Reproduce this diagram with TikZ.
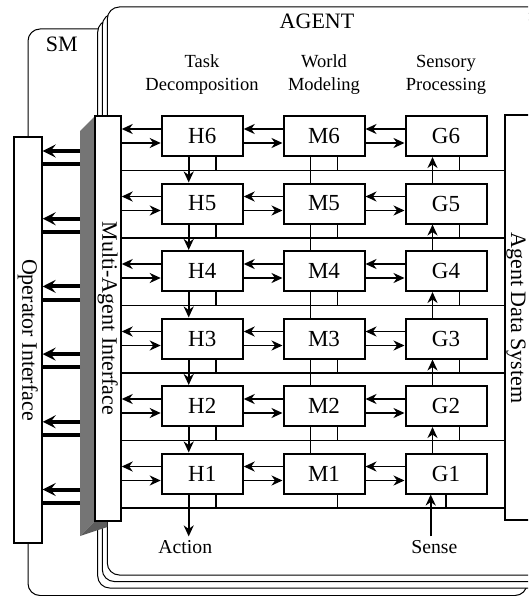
\documentclass[tikz,border=0pt]{standalone}
\usepackage{fontspec}
\setmainfont{Liberation Serif}
\usetikzlibrary{arrows.meta}
\begin{document}
\begin{tikzpicture}[x=1pt,y=-1pt,
  box/.style={draw, line width=2pt, fill=white, minimum width=81pt, minimum height=40pt, inner sep=0pt, font=\fontsize{23}{25}\selectfont},
  arr/.style={line width=1.9pt, -{Stealth[length=11pt,width=10pt,inset=3.5pt]}},
  ln/.style={line width=1.9pt},
  pageframe/.style={draw, line width=1pt, fill=white, rounded corners=12pt},
  thickarr/.style={line width=4pt, -{Stealth[length=13pt,width=13pt,inset=5pt]}},
  thickln/.style={line width=4pt},
  head/.style={font=\fontsize{18.5}{23}\selectfont, anchor=base, inner sep=0pt},
  big/.style={font=\fontsize{22}{24}\selectfont},
  side/.style={draw, line width=2pt, fill=white},
]
\useasboundingbox (0,0) rectangle (528,596);
\clip (0,0) rectangle (528,596);
% SM frame
\draw[line width=1pt, rounded corners=12pt] (28,29) rectangle (527,595.5);
\node[big, anchor=base, inner sep=0pt] (sm) at (61.7,51.7) {SM};
% agent page frames
\path[pageframe] (97.7,20) rectangle (560,588);
\path[pageframe] (102.3,13.5) rectangle (560,581.5);
\path[pageframe] (107.3,7) rectangle (560,575);
\node[big, anchor=base, inner sep=0pt] (agent) at (317,29) {AGENT};
% headings
\node[head] (td1) at (202,67.7) {Task};
\node[head] (td2) at (202,90.7) {Decomposition};
\node[head] (wm1) at (324,67.7) {World};
\node[head] (wm2) at (324,90.7) {Modeling};
\node[head] (sp1) at (446,67.7) {Sensory};
\node[head] (sp2) at (446,90.7) {Processing};
% side boxes
\path[side] (505,115) rectangle (560,520);
\coordinate (ADSw) at (505,318);
\node[big, rotate=-90] (ads) at (516,318) {Agent Data System};
\node[draw, line width=2pt, fill=white, minimum width=27.7pt, minimum height=406pt, inner sep=0pt] (OI) at (27.85,340) {};
\node[big, rotate=-90] (oitext) at (OI.center) {Operator Interface};
% MAI shadow
\fill[black!54] (95,116) -- (80,131) -- (80,536) -- (95,521) -- cycle;
\fill[black!64] (80,536) -- (96.7,530.5) -- (107.3,527) -- (107.3,521) -- (95,521) -- cycle;
\coordinate (shw) at (80,318);
\node[draw, line width=2pt, fill=white, minimum width=25.7pt, minimum height=405pt, inner sep=0pt] (MAI) at (107.85,318.35) {};
\node[big, rotate=-90] (maitext) at (MAI.center) {Multi-Agent Interface};
% thick arrows OI <- MAI
\foreach \k in {0,...,5}{
  \pgfmathsetmacro{\ta}{151+67.7*\k}
  \pgfmathsetmacro{\tb}{164.3+67.7*\k}
  \draw[thickarr] (shw |- 0,\ta) -- (OI.east |- 0,\ta);
  \draw[thickln] (shw |- 0,\tb) -- (OI.east |- 0,\tb);
}
% grid boxes
\foreach \i in {1,...,6}{
  \pgfmathsetmacro{\cy}{473.5-67.5*(\i-1)}
  \node[box] (H\i) at (202.2,\cy) {H\i};
  \node[box] (M\i) at (324,\cy) {M\i};
  \node[box] (G\i) at (446,\cy) {G\i};
  \coordinate (mu\i) at (MAI.east |- H\i.west);
  \path (H\i.south) ++(0,13.5) coordinate (b\i);
}
\foreach \i in {1,...,6}{
  \draw[ln] (MAI.east |- b\i) -- (ADSw |- b\i);
  % horizontal arrows
  \draw[arr] ([yshift=7pt]H\i.west) -- ([yshift=7pt]mu\i);
  \draw[arr] ([yshift=-7pt]mu\i) -- ([yshift=-7pt]H\i.west);
  \draw[arr] ([yshift=7pt]M\i.west) -- ([yshift=7pt]H\i.east);
  \draw[arr] ([yshift=-7pt]H\i.east) -- ([yshift=-7pt]M\i.west);
  \draw[arr] ([yshift=7pt]G\i.west) -- ([yshift=7pt]M\i.east);
  \draw[arr] ([yshift=-7pt]M\i.east) -- ([yshift=-7pt]G\i.west);
  % stubs to bus
  \draw[ln] ([xshift=13.5pt]H\i.south) -- ([xshift=13.5pt]H\i.south |- b\i);
  \draw[ln] ([xshift=13.5pt]M\i.south) -- ([xshift=13.5pt]M\i.south |- b\i);
}
\foreach \i in {2,...,6}{
  \draw[ln] ([xshift=13.5pt]G\i.south) -- ([xshift=13.5pt]G\i.south |- b\i);
}
\draw[ln] (G1.south) -- (G1.south |- b1);
\foreach \i [evaluate=\i as \j using int(\i+1)] in {1,...,5}{
  \draw[arr] ([xshift=-13.5pt]H\j.south) -- ([xshift=-13.5pt]H\i.north);
  \draw[ln] ([xshift=-13.5pt]M\j.south) -- ([xshift=-13.5pt]M\i.north);
  \draw[arr] ([xshift=-13.5pt]G\i.north) -- ([xshift=-13.5pt]G\j.south);
}
% action / sense
\node[font=\fontsize{19.7}{22}\selectfont, anchor=base] (act) at (185.3,553) {Action};
\node[font=\fontsize{19.7}{22}\selectfont, anchor=base] (sense) at (434.3,553) {Sense};
\draw[arr] ([xshift=-13.5pt]H1.south) -- ([xshift=-13.5pt]H1.south |- act.north);
\draw[arr] ([xshift=-3.6pt]sense.north) -- ([xshift=-3.6pt]sense.north |- G1.south);
\end{tikzpicture}
\end{document}
